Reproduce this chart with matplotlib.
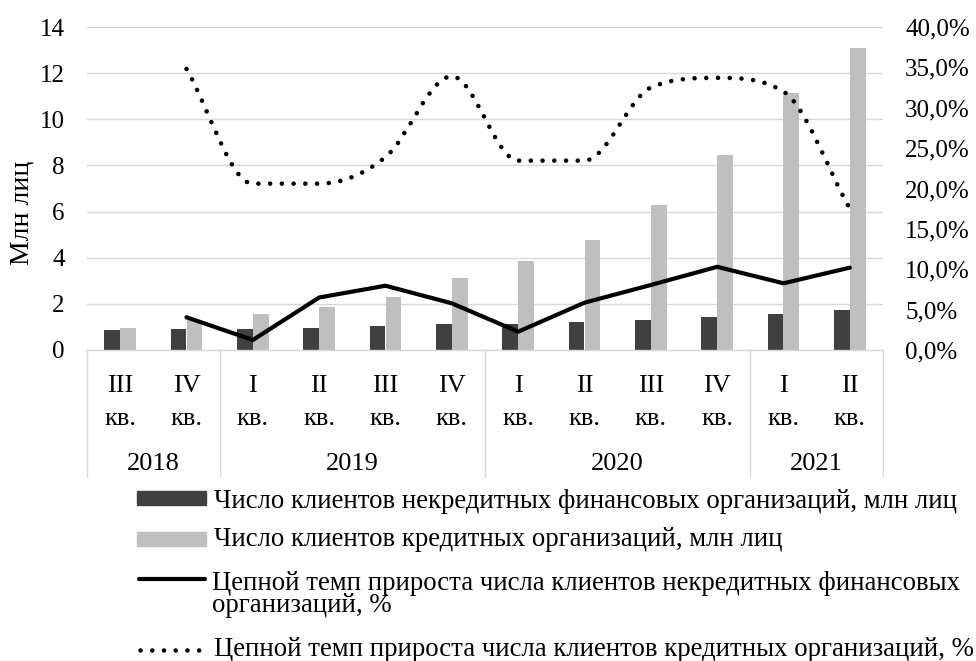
import numpy as np
import matplotlib
matplotlib.use("Agg")
import matplotlib.pyplot as plt
from matplotlib.path import Path
from matplotlib.patches import PathPatch, Rectangle
from matplotlib.lines import Line2D
from matplotlib.ticker import FuncFormatter, MultipleLocator
from matplotlib.transforms import blended_transform_factory

plt.rcParams['font.family'] = ['Liberation Serif', 'DejaVu Serif']

# --- data ---------------------------------------------------------------
quarters = ["III", "IV", "I", "II", "III", "IV", "I", "II", "III", "IV", "I", "II"]
quarter_suffix = "кв."
years = ["2018", "2019", "2020", "2021"]
quarters_per_year = [2, 4, 4, 2]

nonbank_clients = [0.85, 0.90, 0.90, 0.97, 1.05, 1.13, 1.13, 1.20, 1.30, 1.44, 1.57, 1.73]
bank_clients = [0.95, 1.28, 1.55, 1.88, 2.31, 3.11, 3.86, 4.77, 6.30, 8.44, 11.15, 13.10]
nonbank_growth = [np.nan, 4.05, 1.24, 6.5, 7.96, 5.78, 2.27, 5.86, 8.05, 10.3, 8.26, 10.2]
bank_growth = [np.nan, 34.8, 20.6, 20.6, 23.9, 33.9, 23.45, 23.45, 32.5, 33.7, 32.0, 17.5]

legend_labels = [
    "Число клиентов некредитных финансовых организаций, млн лиц",
    "Число клиентов кредитных организаций, млн лиц",
    "Цепной темп прироста числа клиентов некредитных финансовых\nорганизаций, %",
    "Цепной темп прироста числа клиентов кредитных организаций, %",
]
y_label = "Млн лиц"

# --- style --------------------------------------------------------------
W, H = 976, 661
DARK = "#404040"
LIGHT = "#bfbfbf"
GRID = "#d9d9d9"
TICK_FS = 18
CAT_FS = 19
LEG_FS = 19.3
LW = 3.0


def fx(px):
    return px / W


def fy(py):
    return 1 - py / H


fig = plt.figure(figsize=(W / 100, H / 100), dpi=100)
ax = fig.add_axes([fx(87), fy(350), fx(883) - fx(87), fy(27) - fy(350)])

n = len(quarters)
x = np.arange(n)
bw = 0.24
ax.bar(x - bw / 2, nonbank_clients, bw, color=DARK, zorder=2)
ax.bar(x + bw / 2, bank_clients, bw, color=LIGHT, zorder=2)

ax.set_xlim(-0.5, n - 0.5)
ax.set_ylim(0, 14)
ax.yaxis.set_major_locator(MultipleLocator(2))
ax.grid(axis="y", color=GRID, linewidth=1.0)
ax.set_axisbelow(True)
for s in ["top", "right", "left"]:
    ax.spines[s].set_visible(False)
ax.spines["bottom"].set_color(GRID)
ax.spines["bottom"].set_linewidth(1.0)
ax.set_xticks([])
ax.tick_params(axis="y", length=0, pad=16, labelsize=TICK_FS)

# secondary axis with growth rates
ax2 = ax.twinx()
ax2.set_ylim(0, 40)
ax2.yaxis.set_major_locator(MultipleLocator(5))
ax2.yaxis.set_major_formatter(FuncFormatter(lambda v, p: f"{v:.1f}%".replace(".", ",")))
ax2.tick_params(axis="y", length=0, pad=16, labelsize=TICK_FS)
for s in ax2.spines.values():
    s.set_visible(False)

# solid line
g1 = np.array(nonbank_growth, dtype=float)
m1 = ~np.isnan(g1)
ax2.plot(x[m1], g1[m1], color="black", linewidth=LW,
         solid_capstyle="round", solid_joinstyle="round", zorder=3)


# smoothed dotted line: monotone cubic Bezier through the points
def smooth_path(xs, ys):
    xs = np.asarray(xs, float)
    ys = np.asarray(ys, float)
    h = np.diff(xs)
    d = np.diff(ys) / h
    k = len(xs)
    m = np.zeros(k)
    m[0], m[-1] = d[0], d[-1]
    for i in range(1, k - 1):
        m[i] = 0.0 if d[i - 1] * d[i] <= 0 else (d[i - 1] + d[i]) / 2
    for i in range(k - 1):
        if d[i] == 0:
            m[i] = m[i + 1] = 0.0
            continue
        a, b = m[i] / d[i], m[i + 1] / d[i]
        s = a * a + b * b
        if s > 9:
            t = 3 / np.sqrt(s)
            m[i], m[i + 1] = t * a * d[i], t * b * d[i]
    verts = [(xs[0], ys[0])]
    codes = [Path.MOVETO]
    for i in range(k - 1):
        verts += [(xs[i] + h[i] / 3, ys[i] + m[i] * h[i] / 3),
                  (xs[i + 1] - h[i] / 3, ys[i + 1] - m[i + 1] * h[i] / 3),
                  (xs[i + 1], ys[i + 1])]
        codes += [Path.CURVE4] * 3
    return Path(verts, codes)


DOTS = (0, (0.01, 2.55))
g2 = np.array(bank_growth, dtype=float)
m2 = ~np.isnan(g2)
dotted = PathPatch(smooth_path(x[m2], g2[m2]), fill=False, edgecolor="black",
                   linewidth=3.3, linestyle=DOTS, capstyle="round", zorder=3)
ax2.add_patch(dotted)

# category axis: quarter labels, year labels and separators
trans = blended_transform_factory(ax.transData, fig.transFigure)
for i, q in enumerate(quarters):
    ax.text(i, fy(392), q, transform=trans, ha="center", va="baseline", fontsize=CAT_FS)
    ax.text(i, fy(425), quarter_suffix, transform=trans, ha="center", va="baseline", fontsize=CAT_FS)

bounds = np.concatenate([[0], np.cumsum(quarters_per_year)]) - 0.5
for b in bounds:
    fig.add_artist(Line2D([b, b], [fy(350), fy(477)], transform=trans,
                          color=GRID, linewidth=1.0))
for yr, a, b in zip(years, bounds[:-1], bounds[1:]):
    ax.text((a + b) / 2, fy(470), yr, transform=trans, ha="center", va="baseline", fontsize=CAT_FS)

fig.text(fx(22), fy(213), y_label, rotation=90, ha="center", va="center", fontsize=20)

# legend
lx0, lx1, tx = 137, 206, 212
ft = fig.transFigure
fig.add_artist(Rectangle((fx(lx0), fy(505)), fx(lx1) - fx(lx0), fy(491) - fy(505),
                         transform=ft, color=DARK))
fig.add_artist(Rectangle((fx(lx0), fy(546)), fx(lx1) - fx(lx0), fy(532) - fy(546),
                         transform=ft, color=LIGHT))
fig.add_artist(Line2D([fx(lx0 + 2), fx(lx1 - 1)], [fy(579), fy(579)], transform=ft,
                      color="black", linewidth=LW, solid_capstyle="round"))
fig.add_artist(Line2D([fx(lx0 + 3), fx(lx1 - 4)], [fy(650), fy(650)], transform=ft,
                      color="black", linewidth=3.3, linestyle=DOTS, dash_capstyle="round"))

fig.text(fx(tx + 2), fy(507.5), legend_labels[0], ha="left", va="baseline", fontsize=LEG_FS)
fig.text(fx(tx + 2), fy(546.5), legend_labels[1], ha="left", va="baseline", fontsize=LEG_FS)
fig.text(fx(tx), fy(571), legend_labels[2], ha="left", va="top", fontsize=LEG_FS,
         linespacing=0.86)
fig.text(fx(tx + 2), fy(656.5), legend_labels[3], ha="left", va="baseline", fontsize=LEG_FS)

fig.savefig("out.png", dpi=100)
